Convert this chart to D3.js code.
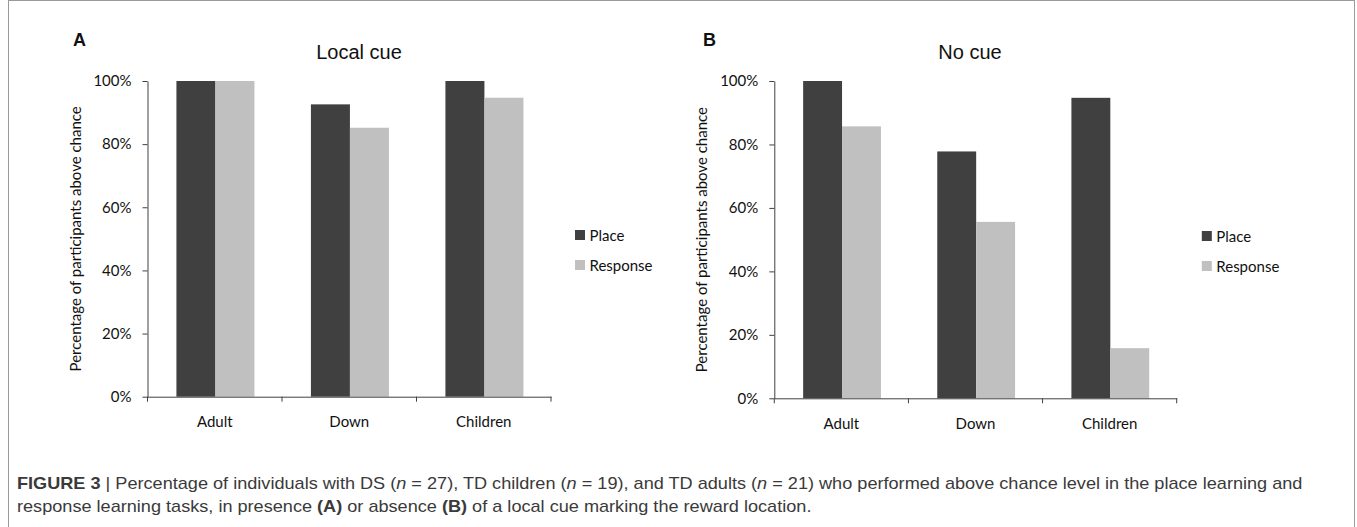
<!DOCTYPE html>
<html>
<head>
<meta charset="utf-8">
<script src="https://cdn.jsdelivr.net/npm/d3@7"></script>
<style>
  html, body { margin: 0; padding: 0; background: #fff; }
  svg { display: block; }
</style>
</head>
<body>
<svg id="chart" width="1357" height="527"></svg>
<script>
// ---- data ----
const categories = ["Adult", "Down", "Children"];
const seriesNames = ["Place", "Response"];
const localCuePlace = [100, 92.6, 100];
const localCueResponse = [100, 85.2, 94.7];
const noCuePlace = [100, 77.8, 94.7];
const noCueResponse = [85.7, 55.6, 15.8];
const yTicks = [0, 20, 40, 60, 80, 100];
const panelTitles = ["Local cue", "No cue"];
const panelLetters = ["A", "B"];
const yAxisTitle = "Percentage of participants above chance";

// ---- style ----
const colors = { Place: "#404040", Response: "#c0c0c0" };
const axisColor = "#404040";
const labelFont = "Lato, 'Open Sans', sans-serif";
const titleFont = "'Liberation Sans', Arial, sans-serif";

const svg = d3.select("#chart");

// frame
svg.append("rect").attr("x", 8.5).attr("y", 0.5).attr("width", 1346).attr("height", 540)
  .attr("fill", "none").attr("stroke", "#9a9a9a").attr("stroke-width", 1);

const panels = [
  { x0: 147.5, x1: 551, y0: 396.7, y1: 81, place: localCuePlace, response: localCueResponse, titleX: 359, letterX: 73 },
  { x0: 774.3, x1: 1176.7, y0: 398.3, y1: 81, place: noCuePlace, response: noCueResponse, titleX: 970, letterX: 703 }
];

panels.forEach((p, i) => {
  const g = svg.append("g");
  const x = d3.scaleBand().domain(categories).range([p.x0, p.x1]).padding(0);
  const bw = x.bandwidth();
  const xs = d3.scaleBand().domain(seriesNames).range([bw * 0.215, bw * 0.795]).padding(0);
  const y = d3.scaleLinear().domain([0, 100]).range([p.y0, p.y1]);

  const rows = categories.map((c, k) => ({ cat: c, vals: [
    { s: "Place", v: p.place[k] }, { s: "Response", v: p.response[k] }
  ]}));

  // bars
  g.selectAll("g.cat").data(rows).join("g")
    .attr("transform", d => `translate(${x(d.cat)},0)`)
    .selectAll("rect").data(d => d.vals).join("rect")
      .attr("x", d => xs(d.s))
      .attr("width", xs.bandwidth())
      .attr("y", d => y(d.v))
      .attr("height", d => y(0) - y(d.v))
      .attr("fill", d => colors[d.s]);

  // y axis
  const ya = g.append("g").attr("transform", `translate(${p.x0},0)`)
    .call(d3.axisLeft(y).tickValues(yTicks).tickFormat(d => d + "%").tickSize(5).tickPadding(11).tickSizeOuter(0));
  ya.select(".domain").attr("stroke", axisColor);
  ya.selectAll(".tick line").attr("stroke", axisColor);
  ya.selectAll(".tick text").attr("font-family", labelFont).attr("font-size", 15).attr("fill", "#111");

  // x axis
  const xa = g.append("g").attr("transform", `translate(0,${p.y0})`)
    .call(d3.axisBottom(x).tickSize(0).tickPadding(20));
  xa.select(".domain").attr("stroke", axisColor);
  xa.selectAll(".tick text").attr("font-family", labelFont).attr("font-size", 15).attr("fill", "#111");
  // boundary ticks
  const bounds = categories.map(c => x(c)).concat([p.x1]);
  g.selectAll("line.bt").data(bounds).join("line")
    .attr("x1", d => d).attr("x2", d => d)
    .attr("y1", p.y0).attr("y2", p.y0 + 5)
    .attr("stroke", axisColor);

  // y axis title
  g.append("text")
    .attr("transform", `translate(${p.x0 - 67},${(p.y0 + p.y1) / 2}) rotate(-90)`)
    .attr("text-anchor", "middle")
    .attr("font-family", labelFont).attr("font-size", 15).attr("fill", "#111")
    .text(yAxisTitle);

  // panel title
  g.append("text")
    .attr("x", p.titleX).attr("y", 59)
    .attr("text-anchor", "middle")
    .attr("font-family", titleFont).attr("font-size", 20).attr("fill", "#111")
    .text(panelTitles[i]);

  // panel letter
  g.append("text")
    .attr("x", p.letterX).attr("y", 46)
    .attr("font-family", titleFont).attr("font-weight", "bold").attr("font-size", 18).attr("fill", "#111")
    .text(panelLetters[i]);

  // legend
  const lg = g.append("g").attr("transform", `translate(${p.x0 + 427.5},${230 + i})`);
  seriesNames.forEach((s, k) => {
    lg.append("rect").attr("x", 0).attr("y", k * 30).attr("width", 10).attr("height", 10).attr("fill", colors[s]);
    lg.append("text").attr("x", 14.5).attr("y", k * 30 + 11)
      .attr("font-family", labelFont).attr("font-size", 15).attr("fill", "#111").text(s);
  });
});

// caption
const capFont = "'Liberation Sans Narrow', 'Liberation Sans', Arial, sans-serif";
const line1 = [
  { t: "FIGURE 3 ", b: true }, { t: "| ", b: false },
  { t: "Percentage of individuals with DS (" }, { t: "n", i: true }, { t: " = 27), TD children (" },
  { t: "n", i: true }, { t: " = 19), and TD adults (" }, { t: "n", i: true },
  { t: " = 21) who performed above chance level in the place learning and" }
];
const line2 = [
  { t: "response learning tasks, in presence " }, { t: "(A)", b: true }, { t: " or absence " },
  { t: "(B)", b: true }, { t: " of a local cue marking the reward location." }
];
const capX = 17, capW = 1286;
const cg = svg.append("g");
function capLine(parts, yb) {
  const t = cg.append("text").attr("x", 0).attr("y", yb)
    .attr("font-family", capFont).attr("font-size", 17).attr("fill", "#3a3a3a");
  parts.forEach(pt => {
    t.append("tspan").attr("font-weight", pt.b ? "bold" : null)
      .attr("font-style", pt.i ? "italic" : null).text(pt.t);
  });
  return t;
}
const t1 = capLine(line1, 489);
const t2 = capLine(line2, 512);
const w1 = t1.node().getComputedTextLength();
const sc = capW / w1;
t1.attr("transform", `translate(${capX},0) scale(${sc},1)`);
t2.attr("transform", `translate(${capX},0) scale(${sc},1)`);
</script>
</body>
</html>
